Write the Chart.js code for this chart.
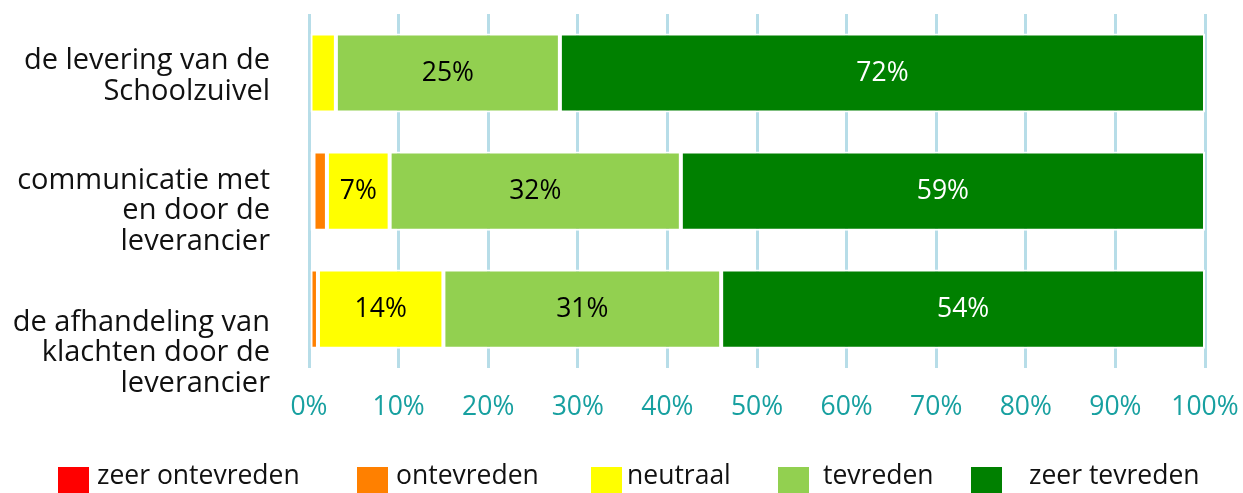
<!DOCTYPE html>
<html>
<head>
<meta charset="utf-8">
<script src="https://cdn.jsdelivr.net/npm/chart.js@4/dist/chart.umd.min.js"></script>
<style>
    html, body { margin: 0; padding: 0; background: #fff; overflow: hidden; }
    #wrap { width: 1243px; height: 493px; }
</style>
</head>
<body>
<div id="wrap"><canvas id="chart"></canvas></div>
<script>
const CATEGORIES = [
    ['de levering van de', 'Schoolzuivel'],
    ['communicatie met', 'en door de', 'leverancier'],
    ['de afhandeling van', 'klachten door de', 'leverancier'],
];
const SERIES = ['zeer ontevreden', 'ontevreden', 'neutraal', 'tevreden', 'zeer tevreden'];
const ZEER_ONTEVREDEN = [0, 0.5, 0];
const ONTEVREDEN = [0, 1.5, 1];
const NEUTRAAL = [3, 7, 14];
const TEVREDEN = [25, 32.5, 31];
const ZEER_TEVREDEN = [72, 58.5, 54];
const SHOWN = [
    [null, null, null, '25%', '72%'],
    [null, null, '7%', '32%', '59%'],
    [null, null, '14%', '31%', '54%'],
];
const X_TICKS = [0, 10, 20, 30, 40, 50, 60, 70, 80, 90, 100];

const COLORS = ['#ff0000', '#ff8000', '#ffff00', '#92d050', '#008000'];
const LABEL_COLORS = ['#000', '#000', '#000', '#000', '#fff'];
const FONT = "'Open Sans', 'Noto Sans', sans-serif";

// y labels are not centred on the bars in the original, shift per row
const LABEL_SHIFT = [3, 20, 44];
// legend box x positions and text gap, as in the original
const LEGEND_X = [58, 357, 591, 778, 971];
const LEGEND_GAP = [8, 8, 5, 14, 27];

const values = [ZEER_ONTEVREDEN, ONTEVREDEN, NEUTRAAL, TEVREDEN, ZEER_TEVREDEN];

/* ── custom drawing ───────────────────────────────────── */
const rowLabels = {
    id: 'rowLabels',
    afterDraw(chart) {
        const { ctx, scales: { y } } = chart;
        ctx.save();
        ctx.font = `29px ${FONT}`;
        ctx.fillStyle = '#111';
        ctx.textAlign = 'right';
        ctx.textBaseline = 'middle';
        const lh = 30.5;
        CATEGORIES.forEach((lines, i) => {
            const c = y.getPixelForValue(i) + LABEL_SHIFT[i];
            const top = c - (lines.length - 1) * lh / 2;
            lines.forEach((t, k) => ctx.fillText(t, 270, top + k * lh));
        });
        ctx.restore();
    }
};

const legendRow = {
    id: 'legendRow',
    afterDraw(chart) {
        const { ctx } = chart;
        ctx.save();
        ctx.font = `26.5px ${FONT}`;
        ctx.textBaseline = 'middle';
        ctx.textAlign = 'left';
        SERIES.forEach((s, d) => {
            ctx.fillStyle = COLORS[d];
            ctx.fillRect(LEGEND_X[d], 467, 31, 31);
            ctx.fillStyle = '#111';
            ctx.fillText(s, LEGEND_X[d] + 31 + LEGEND_GAP[d], 476);
        });
        ctx.restore();
    }
};

const segLabels = {
    id: 'segLabels',
    afterDatasetsDraw(chart) {
        const { ctx } = chart;
        ctx.save();
        ctx.font = `26.5px ${FONT}`;
        ctx.textAlign = 'center';
        ctx.textBaseline = 'middle';
        chart.data.datasets.forEach((ds, d) => {
            chart.getDatasetMeta(d).data.forEach((bar, i) => {
                const txt = SHOWN[i][d];
                if (!txt) return;
                const { x, y, base } = bar.getProps(['x', 'y', 'base'], true);
                ctx.fillStyle = LABEL_COLORS[d];
                ctx.fillText(txt, (x + base) / 2, y);
            });
        });
        ctx.restore();
    }
};

new Chart(document.getElementById('chart'), {
    type: 'bar',
    data: {
        labels: CATEGORIES.map(l => l.join(' ')),
        datasets: SERIES.map((s, d) => ({
            label: s,
            data: values[d],
            backgroundColor: COLORS[d],
            borderColor: '#fff',
            borderWidth: 2,
            borderSkipped: false,
            categoryPercentage: 1,
            barPercentage: 0.67,
        }))
    },
    options: {
        indexAxis: 'y',
        responsive: true,
        maintainAspectRatio: false,
        animation: false,
        layout: { padding: { left: 309, right: 38, top: 14, bottom: 47 } },
        plugins: {
            tooltip: { enabled: false },
            legend: { display: false }
        },
        scales: {
            x: {
                stacked: true,
                min: 0,
                max: 100,
                afterBuildTicks: axis => { axis.ticks = X_TICKS.map(v => ({ value: v })); },
                afterFit: axis => { axis.paddingLeft = 0; axis.paddingRight = 0; },
                grid: { color: '#b7dde8', lineWidth: 3, drawTicks: false },
                border: { display: false },
                ticks: {
                    padding: 23,
                    maxRotation: 0,
                    color: '#17a0a0',
                    font: { size: 26.5, family: FONT },
                    callback: v => v + '%'
                }
            },
            y: {
                display: false,
                stacked: true,
            }
        }
    },
    plugins: [rowLabels, segLabels, legendRow]
});
</script>
</body>
</html>
